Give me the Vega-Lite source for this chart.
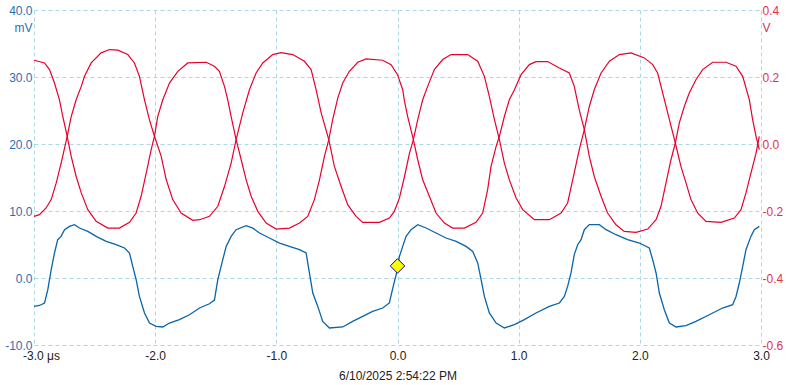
{
  "$schema": "https://vega.github.io/schema/vega-lite/v6.json",
  "width": 727,
  "height": 335,
  "autosize": {"type": "none"},
  "padding": {"left": 34, "top": 10, "right": 34, "bottom": 40},
  "background": "white",
  "config": {
    "view": {"stroke": null},
    "font": "Liberation Sans",
    "axis": {
      "labelFont": "Liberation Sans",
      "labelFontSize": 12,
      "titleFont": "Liberation Sans",
      "titleFontSize": 12,
      "titleFontWeight": "normal",
      "ticks": false,
      "tickSize": 0,
      "domain": false,
      "gridColor": "#add8e6",
      "gridDash": [4, 3],
      "gridWidth": 1,
      "gridOpacity": 1,
      "labelFlush": false,
      "labelOverlap": false
    }
  },
  "datasets": {
    "blue": [
      {"t": -3.0, "mV": -4.24}, {"t": -2.955, "mV": -4.1}, {"t": -2.913, "mV": -3.73}, {"t": -2.886, "mV": -1.75},
      {"t": -2.858, "mV": 1.24}, {"t": -2.831, "mV": 3.73}, {"t": -2.804, "mV": 5.72}, {"t": -2.776, "mV": 6.21},
      {"t": -2.748, "mV": 7.21}, {"t": -2.707, "mV": 7.7}, {"t": -2.666, "mV": 7.96}, {"t": -2.625, "mV": 7.46},
      {"t": -2.556, "mV": 6.96}, {"t": -2.487, "mV": 6.21}, {"t": -2.404, "mV": 5.46}, {"t": -2.322, "mV": 4.97},
      {"t": -2.253, "mV": 4.48}, {"t": -2.212, "mV": 3.73}, {"t": -2.185, "mV": 1.73}, {"t": -2.157, "mV": -0.25},
      {"t": -2.13, "mV": -2.75}, {"t": -2.088, "mV": -5.22}, {"t": -2.047, "mV": -6.72}, {"t": -1.992, "mV": -7.22},
      {"t": -1.937, "mV": -7.31}, {"t": -1.882, "mV": -6.72}, {"t": -1.8, "mV": -6.22}, {"t": -1.717, "mV": -5.48},
      {"t": -1.634, "mV": -4.48}, {"t": -1.552, "mV": -3.85}, {"t": -1.511, "mV": -3.3}, {"t": -1.483, "mV": -0.25},
      {"t": -1.442, "mV": 2.73}, {"t": -1.414, "mV": 4.72}, {"t": -1.373, "mV": 6.21}, {"t": -1.332, "mV": 7.21},
      {"t": -1.249, "mV": 7.8}, {"t": -1.195, "mV": 7.46}, {"t": -1.139, "mV": 6.72}, {"t": -1.057, "mV": 5.97},
      {"t": -0.974, "mV": 5.22}, {"t": -0.892, "mV": 4.72}, {"t": -0.809, "mV": 4.22}, {"t": -0.754, "mV": 3.73},
      {"t": -0.727, "mV": 0.75}, {"t": -0.699, "mV": -2.24}, {"t": -0.658, "mV": -4.24}, {"t": -0.617, "mV": -6.48},
      {"t": -0.562, "mV": -7.46}, {"t": -0.452, "mV": -7.31}, {"t": -0.37, "mV": -6.48}, {"t": -0.287, "mV": -5.73},
      {"t": -0.205, "mV": -4.98}, {"t": -0.122, "mV": -4.48}, {"t": -0.067, "mV": -3.73}, {"t": -0.039, "mV": -1.5},
      {"t": -0.011, "mV": 0.5}, {"t": 0.016, "mV": 3.23}, {"t": 0.043, "mV": 4.72}, {"t": 0.071, "mV": 6.21},
      {"t": 0.112, "mV": 7.21}, {"t": 0.167, "mV": 7.96}, {"t": 0.236, "mV": 7.46}, {"t": 0.318, "mV": 6.72},
      {"t": 0.401, "mV": 5.97}, {"t": 0.484, "mV": 5.46}, {"t": 0.566, "mV": 4.72}, {"t": 0.621, "mV": 3.97},
      {"t": 0.662, "mV": 2.24}, {"t": 0.69, "mV": -0.25}, {"t": 0.717, "mV": -2.75}, {"t": 0.758, "mV": -5.22},
      {"t": 0.814, "mV": -6.72}, {"t": 0.882, "mV": -7.46}, {"t": 0.965, "mV": -6.97}, {"t": 1.047, "mV": -6.22},
      {"t": 1.143, "mV": -5.22}, {"t": 1.253, "mV": -4.24}, {"t": 1.336, "mV": -3.73}, {"t": 1.377, "mV": -2.75},
      {"t": 1.404, "mV": -1.25}, {"t": 1.432, "mV": 0.75}, {"t": 1.459, "mV": 3.5}, {"t": 1.487, "mV": 4.97},
      {"t": 1.515, "mV": 5.72}, {"t": 1.542, "mV": 7.21}, {"t": 1.583, "mV": 7.96}, {"t": 1.666, "mV": 7.96},
      {"t": 1.721, "mV": 7.21}, {"t": 1.803, "mV": 6.46}, {"t": 1.899, "mV": 5.72}, {"t": 1.996, "mV": 5.22},
      {"t": 2.078, "mV": 4.48}, {"t": 2.106, "mV": 2.73}, {"t": 2.134, "mV": 0.75}, {"t": 2.161, "mV": -2.24},
      {"t": 2.202, "mV": -4.73}, {"t": 2.244, "mV": -6.72}, {"t": 2.299, "mV": -7.31}, {"t": 2.381, "mV": -7.12},
      {"t": 2.463, "mV": -6.48}, {"t": 2.573, "mV": -5.48}, {"t": 2.683, "mV": -4.48}, {"t": 2.766, "mV": -3.99},
      {"t": 2.794, "mV": -2.75}, {"t": 2.821, "mV": -0.75}, {"t": 2.849, "mV": 1.73}, {"t": 2.876, "mV": 4.22},
      {"t": 2.917, "mV": 6.21}, {"t": 2.945, "mV": 7.21}, {"t": 2.986, "mV": 7.7}
    ],
    "red": [
      {"s": "A", "t": -3.0, "V": 0.25}, {"s": "A", "t": -2.913, "V": 0.242}, {"s": "A", "t": -2.872, "V": 0.222},
      {"s": "A", "t": -2.831, "V": 0.182}, {"s": "A", "t": -2.79, "V": 0.132}, {"s": "A", "t": -2.762, "V": 0.082},
      {"s": "A", "t": -2.726, "V": 0.023}, {"s": "A", "t": -2.693, "V": -0.037}, {"s": "A", "t": -2.652, "V": -0.097},
      {"s": "A", "t": -2.61, "V": -0.146}, {"s": "A", "t": -2.556, "V": -0.196}, {"s": "A", "t": -2.487, "V": -0.231},
      {"s": "A", "t": -2.391, "V": -0.251}, {"s": "A", "t": -2.295, "V": -0.251}, {"s": "A", "t": -2.212, "V": -0.234},
      {"s": "A", "t": -2.157, "V": -0.206}, {"s": "A", "t": -2.116, "V": -0.156}, {"s": "A", "t": -2.074, "V": -0.087},
      {"s": "A", "t": -2.033, "V": -0.017}, {"s": "A", "t": -2.006, "V": 0.023}, {"s": "A", "t": -1.979, "V": 0.082},
      {"s": "A", "t": -1.937, "V": 0.132}, {"s": "A", "t": -1.882, "V": 0.182}, {"s": "A", "t": -1.813, "V": 0.217},
      {"s": "A", "t": -1.731, "V": 0.242}, {"s": "A", "t": -1.579, "V": 0.244}, {"s": "A", "t": -1.511, "V": 0.232},
      {"s": "A", "t": -1.47, "V": 0.217}, {"s": "A", "t": -1.428, "V": 0.172}, {"s": "A", "t": -1.401, "V": 0.132},
      {"s": "A", "t": -1.373, "V": 0.082}, {"s": "A", "t": -1.332, "V": 0.013}, {"s": "A", "t": -1.29, "V": -0.047},
      {"s": "A", "t": -1.249, "V": -0.107}, {"s": "A", "t": -1.208, "V": -0.156}, {"s": "A", "t": -1.153, "V": -0.201},
      {"s": "A", "t": -1.084, "V": -0.236}, {"s": "A", "t": -1.002, "V": -0.254}, {"s": "A", "t": -0.892, "V": -0.251},
      {"s": "A", "t": -0.809, "V": -0.236}, {"s": "A", "t": -0.741, "V": -0.216}, {"s": "A", "t": -0.686, "V": -0.166},
      {"s": "A", "t": -0.644, "V": -0.107}, {"s": "A", "t": -0.603, "V": -0.037}, {"s": "A", "t": -0.567, "V": 0.013},
      {"s": "A", "t": -0.535, "V": 0.073}, {"s": "A", "t": -0.493, "V": 0.137}, {"s": "A", "t": -0.452, "V": 0.182},
      {"s": "A", "t": -0.397, "V": 0.217}, {"s": "A", "t": -0.328, "V": 0.244}, {"s": "A", "t": -0.259, "V": 0.254},
      {"s": "A", "t": -0.122, "V": 0.25}, {"s": "A", "t": -0.053, "V": 0.237}, {"s": "A", "t": 0.0, "V": 0.207},
      {"s": "A", "t": 0.043, "V": 0.162}, {"s": "A", "t": 0.058, "V": 0.127}, {"s": "A", "t": 0.084, "V": 0.082},
      {"s": "A", "t": 0.131, "V": 0.013}, {"s": "A", "t": 0.167, "V": -0.047}, {"s": "A", "t": 0.208, "V": -0.107},
      {"s": "A", "t": 0.263, "V": -0.156}, {"s": "A", "t": 0.318, "V": -0.206}, {"s": "A", "t": 0.387, "V": -0.236},
      {"s": "A", "t": 0.455, "V": -0.251}, {"s": "A", "t": 0.552, "V": -0.251}, {"s": "A", "t": 0.648, "V": -0.234},
      {"s": "A", "t": 0.703, "V": -0.206}, {"s": "A", "t": 0.744, "V": -0.136}, {"s": "A", "t": 0.772, "V": -0.067},
      {"s": "A", "t": 0.814, "V": -0.007}, {"s": "A", "t": 0.841, "V": 0.023}, {"s": "A", "t": 0.882, "V": 0.082},
      {"s": "A", "t": 0.923, "V": 0.132}, {"s": "A", "t": 0.965, "V": 0.162}, {"s": "A", "t": 1.02, "V": 0.207},
      {"s": "A", "t": 1.088, "V": 0.237}, {"s": "A", "t": 1.143, "V": 0.246}, {"s": "A", "t": 1.239, "V": 0.246},
      {"s": "A", "t": 1.336, "V": 0.227}, {"s": "A", "t": 1.418, "V": 0.212}, {"s": "A", "t": 1.459, "V": 0.172},
      {"s": "A", "t": 1.5, "V": 0.102}, {"s": "A", "t": 1.542, "V": 0.043}, {"s": "A", "t": 1.583, "V": -0.037},
      {"s": "A", "t": 1.624, "V": -0.097}, {"s": "A", "t": 1.68, "V": -0.156}, {"s": "A", "t": 1.734, "V": -0.206},
      {"s": "A", "t": 1.803, "V": -0.241}, {"s": "A", "t": 1.872, "V": -0.261}, {"s": "A", "t": 1.969, "V": -0.264},
      {"s": "A", "t": 2.065, "V": -0.254}, {"s": "A", "t": 2.134, "V": -0.226}, {"s": "A", "t": 2.175, "V": -0.186},
      {"s": "A", "t": 2.216, "V": -0.116}, {"s": "A", "t": 2.257, "V": -0.047}, {"s": "A", "t": 2.293, "V": 0.003},
      {"s": "A", "t": 2.326, "V": 0.063}, {"s": "A", "t": 2.367, "V": 0.112}, {"s": "A", "t": 2.408, "V": 0.152},
      {"s": "A", "t": 2.463, "V": 0.192}, {"s": "A", "t": 2.518, "V": 0.222}, {"s": "A", "t": 2.601, "V": 0.244},
      {"s": "A", "t": 2.711, "V": 0.244}, {"s": "A", "t": 2.794, "V": 0.232}, {"s": "A", "t": 2.849, "V": 0.202},
      {"s": "A", "t": 2.904, "V": 0.132}, {"s": "A", "t": 2.931, "V": 0.073}, {"s": "A", "t": 2.959, "V": 0.023},
      {"s": "A", "t": 2.986, "V": -0.017},
      {"s": "B", "t": -3.0, "V": -0.216}, {"s": "B", "t": -2.955, "V": -0.211}, {"s": "B", "t": -2.9, "V": -0.191},
      {"s": "B", "t": -2.858, "V": -0.166}, {"s": "B", "t": -2.817, "V": -0.117}, {"s": "B", "t": -2.776, "V": -0.057},
      {"s": "B", "t": -2.726, "V": 0.023}, {"s": "B", "t": -2.693, "V": 0.082}, {"s": "B", "t": -2.652, "V": 0.132},
      {"s": "B", "t": -2.61, "V": 0.172}, {"s": "B", "t": -2.583, "V": 0.202}, {"s": "B", "t": -2.528, "V": 0.242},
      {"s": "B", "t": -2.446, "V": 0.272}, {"s": "B", "t": -2.377, "V": 0.282}, {"s": "B", "t": -2.308, "V": 0.28},
      {"s": "B", "t": -2.226, "V": 0.267}, {"s": "B", "t": -2.171, "V": 0.242}, {"s": "B", "t": -2.13, "V": 0.202},
      {"s": "B", "t": -2.088, "V": 0.132}, {"s": "B", "t": -2.047, "V": 0.072}, {"s": "B", "t": -2.006, "V": 0.023},
      {"s": "B", "t": -1.95, "V": -0.037}, {"s": "B", "t": -1.909, "V": -0.106}, {"s": "B", "t": -1.855, "V": -0.166},
      {"s": "B", "t": -1.786, "V": -0.206}, {"s": "B", "t": -1.69, "V": -0.228}, {"s": "B", "t": -1.634, "V": -0.226},
      {"s": "B", "t": -1.552, "V": -0.216}, {"s": "B", "t": -1.483, "V": -0.186}, {"s": "B", "t": -1.428, "V": -0.127},
      {"s": "B", "t": -1.373, "V": -0.057}, {"s": "B", "t": -1.332, "V": 0.013}, {"s": "B", "t": -1.277, "V": 0.093},
      {"s": "B", "t": -1.222, "V": 0.162}, {"s": "B", "t": -1.167, "V": 0.212}, {"s": "B", "t": -1.112, "V": 0.242},
      {"s": "B", "t": -1.03, "V": 0.267}, {"s": "B", "t": -0.96, "V": 0.273}, {"s": "B", "t": -0.865, "V": 0.267},
      {"s": "B", "t": -0.768, "V": 0.247}, {"s": "B", "t": -0.713, "V": 0.222}, {"s": "B", "t": -0.672, "V": 0.162},
      {"s": "B", "t": -0.63, "V": 0.093}, {"s": "B", "t": -0.567, "V": 0.013}, {"s": "B", "t": -0.521, "V": -0.067},
      {"s": "B", "t": -0.465, "V": -0.127}, {"s": "B", "t": -0.411, "V": -0.181}, {"s": "B", "t": -0.342, "V": -0.216},
      {"s": "B", "t": -0.287, "V": -0.234}, {"s": "B", "t": -0.149, "V": -0.234}, {"s": "B", "t": -0.067, "V": -0.221},
      {"s": "B", "t": -0.026, "V": -0.201}, {"s": "B", "t": 0.016, "V": -0.161}, {"s": "B", "t": 0.058, "V": -0.097},
      {"s": "B", "t": 0.099, "V": -0.027}, {"s": "B", "t": 0.131, "V": 0.013}, {"s": "B", "t": 0.167, "V": 0.073},
      {"s": "B", "t": 0.208, "V": 0.132}, {"s": "B", "t": 0.249, "V": 0.172}, {"s": "B", "t": 0.304, "V": 0.222},
      {"s": "B", "t": 0.373, "V": 0.252}, {"s": "B", "t": 0.442, "V": 0.267}, {"s": "B", "t": 0.579, "V": 0.267},
      {"s": "B", "t": 0.662, "V": 0.247}, {"s": "B", "t": 0.717, "V": 0.202}, {"s": "B", "t": 0.758, "V": 0.142},
      {"s": "B", "t": 0.8, "V": 0.073}, {"s": "B", "t": 0.841, "V": 0.013}, {"s": "B", "t": 0.882, "V": -0.057},
      {"s": "B", "t": 0.923, "V": -0.107}, {"s": "B", "t": 0.979, "V": -0.161}, {"s": "B", "t": 1.033, "V": -0.196},
      {"s": "B", "t": 1.13, "V": -0.226}, {"s": "B", "t": 1.253, "V": -0.226}, {"s": "B", "t": 1.35, "V": -0.206},
      {"s": "B", "t": 1.404, "V": -0.176}, {"s": "B", "t": 1.446, "V": -0.107}, {"s": "B", "t": 1.5, "V": -0.017},
      {"s": "B", "t": 1.542, "V": 0.043}, {"s": "B", "t": 1.583, "V": 0.112}, {"s": "B", "t": 1.624, "V": 0.162},
      {"s": "B", "t": 1.68, "V": 0.212}, {"s": "B", "t": 1.749, "V": 0.247}, {"s": "B", "t": 1.831, "V": 0.267},
      {"s": "B", "t": 1.928, "V": 0.272}, {"s": "B", "t": 2.038, "V": 0.257}, {"s": "B", "t": 2.106, "V": 0.237},
      {"s": "B", "t": 2.147, "V": 0.212}, {"s": "B", "t": 2.189, "V": 0.152}, {"s": "B", "t": 2.244, "V": 0.073},
      {"s": "B", "t": 2.293, "V": 0.003}, {"s": "B", "t": 2.339, "V": -0.067}, {"s": "B", "t": 2.381, "V": -0.116},
      {"s": "B", "t": 2.422, "V": -0.166}, {"s": "B", "t": 2.477, "V": -0.206}, {"s": "B", "t": 2.546, "V": -0.231},
      {"s": "B", "t": 2.67, "V": -0.234}, {"s": "B", "t": 2.78, "V": -0.221}, {"s": "B", "t": 2.835, "V": -0.196},
      {"s": "B", "t": 2.876, "V": -0.146}, {"s": "B", "t": 2.917, "V": -0.087}, {"s": "B", "t": 2.959, "V": -0.027},
      {"s": "B", "t": 2.986, "V": 0.023}
    ]
  },
  "encoding": {
    "x": {
      "field": "t",
      "type": "quantitative",
      "scale": {"domain": [-3, 3], "nice": false, "zero": false},
      "axis": {
        "values": [-3, -2, -1, 0, 1, 2, 3],
        "grid": true,
        "labelExpr": "datum.value == -3 ? '-3.0 μs' : replace(format(datum.value, '.1f'), '−', '-')",
        "labelColor": "#222222",
        "labelPadding": 5,
        "labelOffset": {"expr": "datum.value == -3 ? 7 : 0"},
        "title": "6/10/2025 2:54:22 PM",
        "titleColor": "#222222",
        "titleY": 34,
        "titleBaseline": "alphabetic"
      }
    }
  },
  "layer": [
    {
      "data": {"name": "red"},
      "mark": {"type": "line", "color": "#e8002d", "strokeWidth": 1.2},
      "encoding": {
        "y": {
          "field": "V",
          "type": "quantitative",
          "scale": {"domain": [-0.6, 0.4], "nice": false, "zero": false},
          "axis": {
            "orient": "right",
            "values": [-0.6, -0.4, -0.2, 0, 0.2, 0.4],
            "grid": false,
            "labelExpr": "replace(format(datum.value, '.1f'), '−', '-')",
            "labelColor": "#e0314f",
            "labelPadding": 1,
            "title": "V",
            "titleColor": "#e0314f",
            "titleAngle": 0,
            "titleAlign": "left",
            "titleBaseline": "middle",
            "titleX": 1,
            "titleY": 17
          }
        },
        "detail": {"field": "s"}
      }
    },
    {
      "layer": [
        {
          "data": {"name": "blue"},
          "mark": {"type": "line", "color": "#0a64a8", "strokeWidth": 1.3},
          "encoding": {
            "y": {
              "field": "mV",
              "type": "quantitative",
              "scale": {"domain": [-10, 40], "nice": false, "zero": false},
              "axis": {
                "orient": "left",
                "values": [-10, 0, 10, 20, 30, 40],
                "grid": true,
                "labelExpr": "replace(format(datum.value, '.1f'), '−', '-')",
                "labelColor": "#2a6fb5",
                "labelPadding": 2,
                "title": "mV",
                "titleColor": "#2a6fb5",
                "titleAngle": 0,
                "titleAlign": "right",
                "titleBaseline": "middle",
                "titleX": -2,
                "titleY": 17
              }
            }
          }
        },
        {
          "data": {"values": [{"t": 0, "mV": 1.8}]},
          "mark": {"type": "point", "shape": "diamond", "filled": true, "fill": "#ffff00", "stroke": "#0000cc", "strokeWidth": 1, "size": 210, "opacity": 1},
          "encoding": {
            "y": {"field": "mV", "type": "quantitative"}
          }
        }
      ]
    }
  ],
  "resolve": {"scale": {"y": "independent"}, "axis": {"y": "independent"}}
}
